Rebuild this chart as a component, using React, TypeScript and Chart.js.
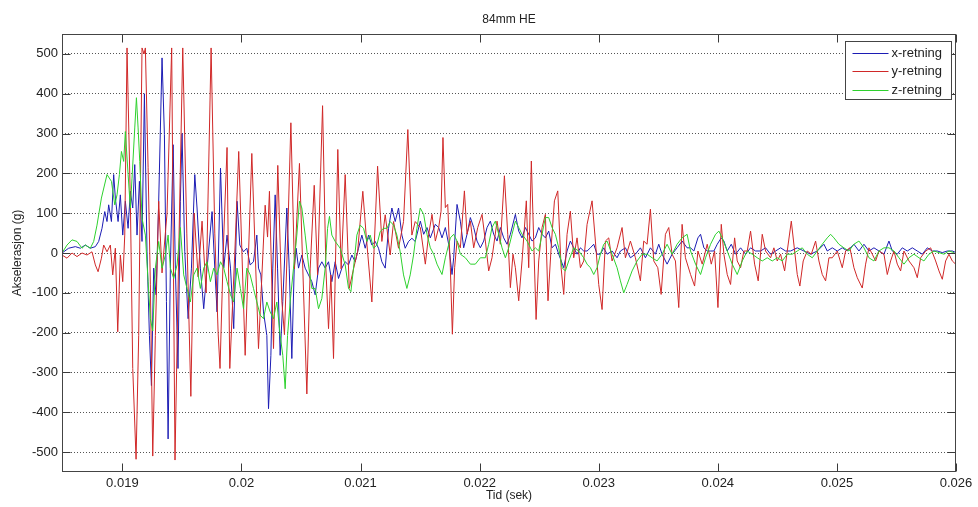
import React, { useEffect, useRef } from 'react';
import { Chart, registerables } from 'chart.js';

Chart.register(...registerables);

// ---------- data (time in ms, acceleration in g) ----------
const chartTitle = '84mm HE';
const xAxisTitle = 'Tid (sek)';
const yAxisTitle = 'Akselerasjon (g)';
const seriesLabels = ['x-retning', 'y-retning', 'z-retning'];
const seriesColors = ['#1c1cb4', '#d02828', '#2ed12e'];
const xTickValues = [0.019, 0.02, 0.021, 0.022, 0.023, 0.024, 0.025, 0.026];
const yTickValues = [-500, -400, -300, -200, -100, 0, 100, 200, 300, 400, 500];
const xRange = [0.018493, 0.026];
const yRange = [-550, 550];

const xRetning: [number, number][] = [
  [18.493, 0], [18.549, 12], [18.605, 16], [18.647, 12], [18.689, 20], [18.731, 12], [18.773, 16], [18.801, 29],
  [18.829, 62], [18.852, 104], [18.871, 79], [18.885, 121], [18.908, 79], [18.927, 197], [18.941, 138], [18.964, 79],
  [18.983, 146], [19.003, 45], [19.025, 130], [19.048, 62], [19.067, 155], [19.087, 113], [19.104, 222], [19.123, 45],
  [19.143, 180], [19.165, 29], [19.185, 400], [19.207, 3], [19.227, -207], [19.244, -333], [19.263, -38], [19.283, -105],
  [19.305, 130], [19.333, 490], [19.353, 297], [19.370, -122], [19.384, -467], [19.403, -38], [19.426, 272], [19.445, -38],
  [19.467, -290], [19.487, 130], [19.501, 300], [19.524, 3], [19.552, -165], [19.580, -38], [19.608, 197], [19.627, 113],
  [19.655, -38], [19.683, -140], [19.711, -38], [19.753, 104], [19.776, -38], [19.795, -148], [19.824, 213], [19.851, -38],
  [19.879, 45], [19.908, -38], [19.935, -190], [19.963, 130], [19.986, 20],
  [20.017, 3], [20.045, 12], [20.073, -30], [20.101, -22], [20.129, 45], [20.143, -38], [20.163, -55], [20.185, -148],
  [20.213, -207], [20.227, -391], [20.247, -257], [20.263, -38], [20.283, 146], [20.303, -38], [20.325, -257], [20.347, -122],
  [20.381, 113], [20.401, -38], [20.423, -265], [20.443, -38], [20.459, 12], [20.479, -38], [20.507, -5], [20.535, -38],
  [20.563, -55], [20.591, -72], [20.619, -105], [20.647, -38], [20.675, -22], [20.703, -38], [20.731, -22], [20.759, -72],
  [20.787, -22], [20.815, -64], [20.843, -38], [20.871, -22], [20.899, -30], [20.927, -5], [20.955, -22], [20.983, 12],
  [21.011, 45], [21.039, 12], [21.067, 45], [21.095, 20], [21.123, 29], [21.151, 12], [21.179, -22], [21.207, -38],
  [21.235, 62], [21.263, 113], [21.291, 79], [21.319, 113], [21.347, 45], [21.375, 12], [21.403, 29], [21.431, 37],
  [21.459, 29],
  [21.502, 80], [21.530, 47], [21.558, 64], [21.586, 38], [21.628, 72], [21.656, 64], [21.684, 38], [21.712, 64],
  [21.740, 22], [21.768, -54], [21.782, -12], [21.810, 122], [21.838, 80], [21.866, 13], [21.894, 47], [21.922, 89],
  [21.950, 64], [21.978, 30], [22.006, 13], [22.034, 30], [22.062, 64], [22.090, 80], [22.118, 47], [22.146, 30],
  [22.174, 64], [22.202, 38], [22.230, 22], [22.258, 47], [22.300, 97], [22.328, 55], [22.356, 38], [22.384, 64],
  [22.412, 47], [22.440, 30], [22.468, 38], [22.496, 64], [22.524, 47], [22.552, 38], [22.580, 55], [22.608, 13],
  [22.636, 22], [22.664, -3], [22.706, -37], [22.734, 5], [22.762, 30], [22.790, 13], [22.818, -3], [22.846, 13],
  [22.874, 5], [22.902, 5], [22.930, 13], [22.958, 22], [22.986, -3], [23.014, -3], [23.042, 13], [23.070, -3],
  [23.112, 5], [23.154, -12], [23.182, 5], [23.224, 13], [23.266, -12], [23.308, -3], [23.350, 13], [23.392, -12],
  [23.434, 13], [23.476, -3], [23.504, 22], [23.532, -3], [23.574, -28], [23.616, -3], [23.658, 13], [23.700, 30],
  [23.742, 13],
  [23.771, 13], [23.799, 5], [23.833, 38], [23.855, 47], [23.883, 13], [23.911, 5], [23.939, 5], [23.967, 5],
  [23.995, 22], [24.029, 38], [24.051, 30], [24.079, 5], [24.113, 22], [24.149, -3], [24.191, 13], [24.233, -3],
  [24.275, 13], [24.317, 5], [24.359, 5], [24.401, 13], [24.443, -3], [24.485, 5], [24.527, 13], [24.569, 5],
  [24.611, 5], [24.667, 13], [24.723, 5], [24.779, -3], [24.835, 5], [24.891, 22], [24.919, 5], [24.961, 13],
  [25.003, 5], [25.045, 13], [25.087, 5], [25.143, 22], [25.185, 5], [25.227, 22], [25.269, 5], [25.311, 13],
  [25.353, 5], [25.395, -3], [25.437, 30], [25.465, 5], [25.507, -3], [25.549, 13], [25.591, 5], [25.633, 13],
  [25.675, 5], [25.717, -3], [25.759, 13], [25.801, 5], [25.843, 5], [25.885, 1], [25.927, 5], [25.969, 5],
  [26.0, 1],
];

const yRetning: [number, number][] = [
  [18.493, -5], [18.535, -13], [18.577, 0], [18.619, -9], [18.661, 0], [18.703, -5], [18.745, 3], [18.773, -30],
  [18.796, -47], [18.824, -13], [18.843, 20], [18.871, 3], [18.899, 20], [18.919, -55], [18.941, 12], [18.961, -198],
  [18.983, -5], [19.003, -72], [19.020, 45], [19.039, 515], [19.067, 130], [19.087, -290], [19.115, -518], [19.137, -207],
  [19.165, 515], [19.182, 500], [19.193, 515], [19.216, 214], [19.235, -80], [19.255, -510], [19.277, -207], [19.305, 130],
  [19.333, -50], [19.375, 100], [19.414, 515], [19.442, -520], [19.473, 0], [19.507, 515], [19.541, 50], [19.575, -360],
  [19.603, 100], [19.636, -60], [19.669, 80], [19.703, -100], [19.745, 515], [19.776, 50], [19.804, -200], [19.820, -290],
  [19.851, 40], [19.879, 265], [19.902, -290], [19.944, 0], [19.977, 255],
  [20.031, -257], [20.087, 250], [20.143, -240], [20.199, 120], [20.219, 40], [20.235, 155], [20.269, -240], [20.305, 220],
  [20.339, -120], [20.361, -205], [20.389, 50], [20.415, 327], [20.445, -40], [20.487, 225], [20.515, -40], [20.549, -354],
  [20.577, -40], [20.611, 170], [20.639, -55], [20.681, 370], [20.709, -40], [20.731, -190], [20.751, -55], [20.773, -265],
  [20.809, 260], [20.837, -40], [20.871, 197], [20.905, -89], [20.941, -40], [20.975, 3], [21.019, 155], [21.047, 45],
  [21.095, -123], [21.143, 218], [21.179, 29], [21.207, 96], [21.249, -5], [21.277, 79], [21.319, 12], [21.361, 79],
  [21.397, 310], [21.431, 45], [21.459, 79],
  [21.502, 64], [21.544, -28], [21.572, 47], [21.600, 97], [21.628, 30], [21.656, 64], [21.676, 105], [21.692, 290],
  [21.712, 114], [21.732, 122], [21.754, -37], [21.771, -204], [21.790, -37], [21.810, 30], [21.838, 13], [21.872, 156],
  [21.894, 47], [21.922, 80], [21.950, 13], [21.984, 64], [22.020, 97], [22.048, 30], [22.076, -45], [22.104, -12],
  [22.146, 80], [22.174, 22], [22.208, 194], [22.236, 47], [22.258, -87], [22.280, -3], [22.300, -37], [22.328, -120],
  [22.356, -20], [22.392, 131], [22.412, -37], [22.434, 231], [22.454, 30], [22.474, -167], [22.496, -20], [22.524, 64],
  [22.552, 97], [22.574, -120], [22.602, 22], [22.628, 131], [22.656, 156], [22.684, -37], [22.706, -104], [22.734, 47],
  [22.762, 105], [22.790, -12], [22.818, 38], [22.846, -37], [22.874, -20], [22.902, 72], [22.944, 131], [22.972, 30],
  [23.000, -79], [23.028, -142], [23.056, 30], [23.084, 38], [23.112, -20], [23.154, 13], [23.196, 64], [23.224, -12],
  [23.266, 30], [23.308, -12], [23.350, -70], [23.378, 30], [23.406, 22], [23.434, 110], [23.462, -20], [23.496, -37],
  [23.524, -104], [23.560, 47], [23.588, 64], [23.616, -3], [23.644, -20], [23.672, -137], [23.700, 72], [23.728, -12],
  [23.771, -54], [23.805, -83], [23.833, 5], [23.869, -28], [23.911, 22], [23.945, -28], [23.973, 5], [24.001, -137],
  [24.029, 72], [24.051, -3], [24.079, -54], [24.107, -79], [24.141, 38], [24.163, -20], [24.191, -37], [24.219, 5],
  [24.247, 5], [24.275, 55], [24.309, -28], [24.339, -70], [24.373, 47], [24.401, 5], [24.443, -12], [24.471, 13],
  [24.499, -20], [24.527, -3], [24.561, -45], [24.583, 5], [24.617, 80], [24.645, 5], [24.667, -54], [24.689, -83],
  [24.717, -20], [24.751, 5], [24.785, -3], [24.821, 30], [24.849, -20], [24.877, -54], [24.905, -70], [24.933, -12],
  [24.961, -12], [25.003, 5], [25.045, -37], [25.073, 5], [25.109, 13], [25.143, -37], [25.171, -62], [25.213, -88],
  [25.241, -28], [25.269, 13], [25.297, -3], [25.325, -20], [25.353, 5], [25.395, -3], [25.423, -54], [25.451, -20],
  [25.479, 5], [25.507, -28], [25.535, -45], [25.563, 5], [25.605, -20], [25.647, -37], [25.675, -62], [25.703, -12],
  [25.745, 5], [25.787, 13], [25.829, -20], [25.857, -45], [25.885, -66], [25.913, -20], [25.941, -3], [25.969, -20],
  [25.997, -28],
];

const zRetning: [number, number][] = [
  [18.493, 0], [18.535, 20], [18.577, 33], [18.619, 29], [18.661, 12], [18.689, 20], [18.731, 12], [18.759, 29],
  [18.787, 70], [18.824, 138], [18.871, 197], [18.908, 180], [18.936, 121], [18.955, 146], [18.975, 197], [18.992, 255],
  [19.011, 230], [19.025, 305], [19.048, 197], [19.067, 113], [19.081, 188], [19.104, 314], [19.118, 390], [19.132, 314],
  [19.146, 230], [19.165, 87], [19.193, 45], [19.216, -72], [19.235, -165], [19.255, -196], [19.277, -38], [19.305, 29],
  [19.333, -38], [19.361, -5], [19.384, 45], [19.403, -38], [19.431, -64], [19.459, -30], [19.487, 64], [19.515, -55],
  [19.543, -89], [19.571, -123], [19.599, -55], [19.627, -38], [19.655, -89], [19.683, -38], [19.711, -22], [19.739, -72],
  [19.767, -38], [19.795, -55], [19.824, -22], [19.851, -38], [19.879, -72], [19.908, -105], [19.935, -123], [19.963, -38],
  [19.991, -89],
  [20.017, -140], [20.045, -38], [20.073, -55], [20.101, -89], [20.129, -123], [20.157, -156], [20.185, -165], [20.213, -123],
  [20.241, -148], [20.269, -165], [20.297, -123], [20.325, -207], [20.347, -257], [20.367, -341], [20.387, -207], [20.409, -122],
  [20.437, -38], [20.465, 45], [20.487, 130], [20.507, 113], [20.535, 45], [20.563, -30], [20.591, -89], [20.619, -89],
  [20.647, -140], [20.675, -114], [20.703, -38], [20.723, 62], [20.739, 92], [20.759, 45], [20.787, 29], [20.829, 12],
  [20.871, -30], [20.899, -89], [20.919, -97], [20.941, -38], [20.969, 45], [20.997, 70], [21.025, 62], [21.053, 29],
  [21.081, 45], [21.109, 12], [21.137, 20], [21.165, 54], [21.193, 62], [21.221, 62], [21.249, 79], [21.277, 70],
  [21.305, 45], [21.333, 3], [21.361, -55], [21.389, -89], [21.417, -55], [21.445, -5], [21.473, 62], [21.501, 113],
  [21.530, 97], [21.558, 47], [21.586, 13], [21.614, -3], [21.642, -28], [21.684, -54], [21.712, -12], [21.754, 38],
  [21.782, 47], [21.810, 30], [21.838, -3], [21.880, -12], [21.922, -28], [21.964, -28], [22.006, -12], [22.048, -12],
  [22.076, 22], [22.104, 64], [22.132, 80], [22.160, 47], [22.188, 13], [22.216, -12], [22.244, 13], [22.272, 47],
  [22.300, 80], [22.328, 64], [22.356, 47], [22.398, 30], [22.440, 5], [22.468, 13], [22.496, 5], [22.524, 47],
  [22.552, 89], [22.580, 89], [22.608, 64], [22.636, 47], [22.664, 13], [22.692, -37], [22.720, -45], [22.748, -20],
  [22.790, 13], [22.832, 5], [22.874, -12], [22.902, -28], [22.930, -37], [22.958, -54], [22.986, -37], [23.014, -3],
  [23.042, 22], [23.070, 30], [23.112, -3], [23.154, -37], [23.182, -70], [23.210, -100], [23.238, -79], [23.280, -45],
  [23.322, -20], [23.364, -3], [23.406, -3], [23.448, -12], [23.490, -20], [23.532, -3], [23.574, 22], [23.616, -3],
  [23.658, 22], [23.700, 38], [23.742, 47],
  [23.771, 5], [23.813, -28], [23.855, -54], [23.897, -12], [23.939, 22], [23.981, 47], [24.009, 55], [24.037, 38],
  [24.079, 5], [24.121, -28], [24.163, -54], [24.205, -20], [24.247, 5], [24.289, -3], [24.331, -12], [24.373, -20],
  [24.415, -12], [24.457, -20], [24.499, -12], [24.541, -20], [24.583, -3], [24.625, -3], [24.667, 5], [24.709, 13],
  [24.751, -3], [24.793, -12], [24.835, 5], [24.877, 22], [24.919, 38], [24.947, 47], [24.975, 38], [25.017, 22],
  [25.059, 13], [25.101, 5], [25.143, 22], [25.185, 30], [25.227, 13], [25.269, -12], [25.311, -20], [25.353, 5],
  [25.395, 13], [25.437, 13], [25.479, 5], [25.521, -12], [25.563, -28], [25.605, -12], [25.647, -3], [25.689, -12],
  [25.731, -20], [25.773, -3], [25.815, 5], [25.857, 1], [25.899, -3], [25.941, 5], [25.983, 1],
];

const FONT = '"Liberation Sans", Arial, Helvetica, sans-serif';
const TEXT = '#222222';

export default function App() {
  const canvasRef = useRef<HTMLCanvasElement | null>(null);

  useEffect(() => {
    if (!canvasRef.current) return;
    const toPoints = (s: [number, number][]) => s.map(([t, v]) => ({ x: t / 1000, y: v }));
    const series = [xRetning, yRetning, zRetning];

    const framePlugin = {
      id: 'frame',
      afterDraw(chart: any) {
        const { ctx, chartArea: a, scales } = chart;
        const L = Math.round(a.left) + 0.5;
        const R = Math.round(a.right) - 0.5;
        const T = Math.round(a.top) + 0.5;
        const B = Math.round(a.bottom) - 0.5;
        ctx.save();
        ctx.strokeStyle = '#3a3a3a';
        ctx.lineWidth = 1;
        ctx.setLineDash([]);
        ctx.beginPath();
        for (const v of yTickValues) {
          const py = Math.round(scales.y.getPixelForValue(v)) + 0.5;
          ctx.moveTo(L, py); ctx.lineTo(L + 8, py);
          ctx.moveTo(R, py); ctx.lineTo(R - 8, py);
        }
        for (const v of xTickValues) {
          const px = Math.round(scales.x.getPixelForValue(v)) + 0.5;
          ctx.moveTo(px, B); ctx.lineTo(px, B - 8);
          ctx.moveTo(px, T); ctx.lineTo(px, T + 8);
        }
        ctx.stroke();
        ctx.strokeStyle = '#444444';
        ctx.strokeRect(L, T, R - L, B - T);

        // title
        ctx.fillStyle = TEXT;
        ctx.font = `12px ${FONT}`;
        ctx.textAlign = 'center';
        ctx.textBaseline = 'middle';
        ctx.fillText(chartTitle, (a.left + a.right) / 2, 20);

        // legend
        const bw = 106, bh = 58;
        const bx = Math.round(a.right) - 5 - bw + 0.5;
        const by = Math.round(a.top) + 7 + 0.5;
        ctx.fillStyle = '#ffffff';
        ctx.fillRect(bx, by, bw, bh);
        ctx.strokeStyle = '#444444';
        ctx.strokeRect(bx, by, bw, bh);
        ctx.font = `13px ${FONT}`;
        ctx.textAlign = 'left';
        seriesLabels.forEach((lab, i) => {
          const ly = Math.round(by + 11 + i * 18.5) + 0.5;
          ctx.strokeStyle = seriesColors[i];
          ctx.beginPath();
          ctx.moveTo(bx + 7, ly);
          ctx.lineTo(bx + 43, ly);
          ctx.stroke();
          ctx.fillStyle = TEXT;
          ctx.fillText(lab, bx + 46, ly);
        });
        ctx.restore();
      },
    };

    const chart = new Chart(canvasRef.current, {
      type: 'line',
      data: {
        datasets: series.map((s, i) => ({
          label: seriesLabels[i],
          data: toPoints(s),
          borderColor: seriesColors[i],
          backgroundColor: seriesColors[i],
          borderWidth: 1,
          pointRadius: 0,
          tension: 0,
          fill: false,
          order: 2 - i,
        })),
      },
      options: {
        animation: false,
        responsive: false,
        maintainAspectRatio: false,
        layout: { padding: { top: 34, right: 22, bottom: 0, left: 0 } },
        plugins: {
          legend: { display: false },
          title: { display: false },
          tooltip: { enabled: false },
        },
        scales: {
          x: {
            type: 'linear',
            min: xRange[0],
            max: xRange[1],
            afterBuildTicks: (s: any) => { s.ticks = xTickValues.map((v) => ({ value: v })); },
            afterFit: (s: any) => { s.height = 35; },
            grid: { display: false, drawTicks: false },
            border: { display: false },
            ticks: {
              autoSkip: false,
              maxRotation: 0,
              padding: 4,
              color: TEXT,
              font: { family: FONT, size: 13 },
              callback: (v: any) => String(Math.round(Number(v) * 1000) / 1000),
            },
            title: {
              display: true,
              text: xAxisTitle,
              color: TEXT,
              font: { family: FONT, size: 12 },
              padding: { top: 0, bottom: 4 },
            },
          },
          y: {
            type: 'linear',
            min: yRange[0],
            max: yRange[1],
            afterBuildTicks: (s: any) => { s.ticks = yTickValues.map((v) => ({ value: v })); },
            afterFit: (s: any) => { s.width = 62; },
            grid: { display: true, drawTicks: false, color: '#555555', lineWidth: 1 },
            border: { display: false, dash: [1, 2] },
            ticks: {
              padding: 4,
              color: TEXT,
              font: { family: FONT, size: 13 },
              callback: (v: any) => String(v),
            },
            title: {
              display: true,
              text: yAxisTitle,
              color: TEXT,
              font: { family: FONT, size: 12 },
              padding: { top: 10, bottom: 0 },
            },
          },
        },
      },
      plugins: [framePlugin],
    } as any);

    return () => chart.destroy();
  }, []);

  return (
    <div style={{ position: 'absolute', left: 0, top: 0, width: 978, height: 507, background: '#ffffff' }}>
      <canvas ref={canvasRef} width={978} height={507} style={{ display: 'block', width: 978, height: 507 }} />
    </div>
  );
}
